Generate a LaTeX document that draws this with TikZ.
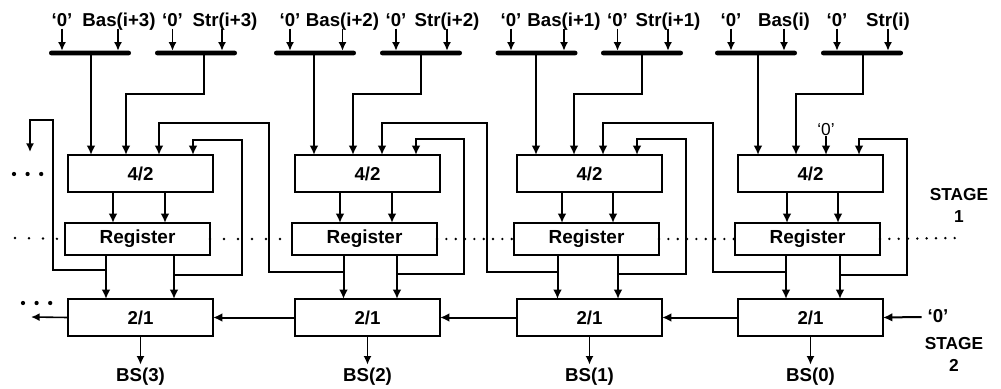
\documentclass[tikz,border=0pt]{standalone}
\usepackage{fontspec}
\setmainfont{Liberation Sans}
\usepackage{xcolor}
\usepackage{tikz}
\usetikzlibrary{arrows.meta,positioning}

\begin{document}
\begin{tikzpicture}[
    x=0.75pt, y=-0.75pt,
    opbox/.style={draw, line width=1.6pt, outer sep=0pt, inner sep=0pt, minimum width=108.75pt, minimum height=27.75pt, font=\fontsize{14}{16}\selectfont\bfseries},
    regbox/.style={opbox, minimum height=24pt, font=\fontsize{14.2}{18}\selectfont\bfseries},
    busbar/.style={fill=black, rounded corners=1.6pt, outer sep=0pt, inner sep=0pt, minimum width=61.5pt, minimum height=3.4pt},
    lbl/.style={inner sep=0pt, outer sep=0pt, text height=9.75pt, text depth=1.5pt, font=\fontsize{14}{16}\selectfont\bfseries},
    bslbl/.style={lbl, text height=12.5pt},
    stagelbl/.style={inner sep=0pt, align=center, font=\fontsize{13}{16.5}\selectfont\bfseries},
    ln/.style={line width=1.5pt},
    ar/.style={ln, -{Latex[length=7pt,width=6.5pt]}},
    thn/.style={line width=1.2pt, -{Latex[length=6.5pt,width=6pt]}},
    dotline/.style={line width=2pt, line cap=round, dash pattern=on 0pt off 7pt},
    dotwide/.style={line width=2pt, line cap=round, dash pattern=on 0pt off 10.5pt},
    bigdots/.style={line width=3.2pt, line cap=round, dash pattern=on 0pt off 10.2pt}
  ]
    \useasboundingbox (0,0) rectangle (1001,389);

    % 4/2 adders, registers and 2/1 adders
    \node[opbox] (add3) at (140.5,173.5) {4/2};
    \node[opbox, right=61.5pt of add3] (add2) {4/2};
    \node[opbox, right=57.75pt of add2] (add1) {4/2};
    \node[opbox, right=57pt of add1] (add0) {4/2};
    \node[regbox, below=23.25pt of add3, xshift=-2.25pt] (reg3) {Register};
    \node[regbox, below=23.25pt of add2, xshift=-2.25pt] (reg2) {Register};
    \node[regbox, below=23.25pt of add1, xshift=-2.25pt] (reg1) {Register};
    \node[regbox, below=23.25pt of add0, xshift=-2.25pt] (reg0) {Register};
    \node[opbox, below=33pt of reg3, xshift=2.25pt] (mux3) {2/1};
    \node[opbox, below=33pt of reg2, xshift=2.25pt] (mux2) {2/1};
    \node[opbox, below=33pt of reg1, xshift=2.25pt] (mux1) {2/1};
    \node[opbox, below=33pt of reg0, xshift=2.25pt] (mux0) {2/1};

    % input buses
    \node[busbar] (bus3a) at (90,53) {};
    \node[busbar] (bus3b) at (196,53) {};
    \node[busbar] (bus2a) at (315,53) {};
    \node[busbar] (bus2b) at (421,53) {};
    \node[busbar] (bus1a) at (536.5,53) {};
    \node[busbar] (bus1b) at (642,53) {};
    \node[busbar] (bus0a) at (756,53) {};
    \node[busbar] (bus0b) at (862,53) {};

    % input labels
    \node[lbl] (z3a) at (62,21) {‘0’};
    \node[lbl] (bas3) at (119,21) {Bas(i+3)};
    \node[lbl] (z3b) at (172.5,21) {‘0’};
    \node[lbl] (str3) at (225,21) {Str(i+3)};
    \node[lbl] (z2a) at (290,21) {‘0’};
    \node[lbl] (bas2) at (342.5,21) {Bas(i+2)};
    \node[lbl] (z2b) at (396,21) {‘0’};
    \node[lbl] (str2) at (447,21) {Str(i+2)};
    \node[lbl] (z1a) at (511,21) {‘0’};
    \node[lbl] (bas1) at (564,21) {Bas(i+1)};
    \node[lbl] (z1b) at (617.5,21) {‘0’};
    \node[lbl] (str1) at (668,21) {Str(i+1)};
    \node[lbl] (z0a) at (731,21) {‘0’};
    \node[lbl] (bas0) at (784,21) {Bas(i)};
    \node[lbl] (z0b) at (837,21) {‘0’};
    \node[lbl] (str0) at (888,21) {Str(i)};

    % outputs and side labels
    \node[bslbl, below=21.5pt of mux3] (bs3) {BS(3)};
    \node[bslbl, below=21.5pt of mux2] (bs2) {BS(2)};
    \node[bslbl, below=21.5pt of mux1] (bs1) {BS(1)};
    \node[bslbl, below=21.5pt of mux0] (bs0) {BS(0)};
    \node[lbl] (zin) at (938,317) {‘0’};
    \node[inner sep=0pt, font=\fontsize{13}{16}\selectfont] (zmid) at (826,130) {‘0’};
    \node[stagelbl] (stage1) at (959,205) {STAGE\\1};
    \node[stagelbl] (stage2) at (954,354) {STAGE\\2};

    % free ends
    \coordinate (carryout) at (31,317);
    \coordinate (dotsl) at (15,238);
    \coordinate (dotsr) at (958,238);
    \coordinate (dotsa) at (14,174);
    \coordinate (dotsb) at (42,174);
    \coordinate (dotsc) at (23,303);
    \coordinate (dotsd) at (51,303);

    % stage line
    \draw[dotwide] (dotsl) -- (reg3.west);
    \draw[dotwide] (reg3.east) -- (reg2.west);
    \draw[dotline] (reg2.east) -- (reg1.west);
    \draw[dotline] (reg1.east) -- (reg0.west);
    \draw[dotline] (reg0.east) -- (dotsr);
    \draw[bigdots] (dotsa) -- (dotsb);
    \draw[bigdots] (dotsc) -- (dotsd);

    % bus inputs
    \draw[thn] (z3a.south) -- (z3a |- bus3a.north);
    \draw[thn] (118,0 |- bas3.south) -- (118,0 |- bus3a.north);
    \draw[thn] (z3b.south) -- (z3b |- bus3b.north);
    \draw[thn] (222,0 |- str3.south) -- (222,0 |- bus3b.north);
    \draw[thn] (z2a.south) -- (z2a |- bus2a.north);
    \draw[thn] (bas2.south) -- (bas2 |- bus2a.north);
    \draw[thn] (z2b.south) -- (z2b |- bus2b.north);
    \draw[thn] (str2.south) -- (str2 |- bus2b.north);
    \draw[thn] (z1a.south) -- (z1a |- bus1a.north);
    \draw[thn] (bas1.south) -- (bas1 |- bus1a.north);
    \draw[thn] (z1b.south) -- (z1b |- bus1b.north);
    \draw[thn] (str1.south) -- (str1 |- bus1b.north);
    \draw[thn] (z0a.south) -- (z0a |- bus0a.north);
    \draw[thn] (bas0.south) -- (bas0 |- bus0a.north);
    \draw[thn] (z0b.south) -- (z0b |- bus0b.north);
    \draw[thn] (str0.south) -- (str0 |- bus0b.north);

    % buses to adders
    \draw[ar] (91,0 |- bus3a.south) -- (91,0 |- add3.north);
    \draw[ar] (204,0 |- bus3b.south) |- (126,94) -- (126,0 |- add3.north);
    \draw[ar] (314,0 |- bus2a.south) -- (314,0 |- add2.north);
    \draw[ar] (421,0 |- bus2b.south) |- (353,94) -- (353,0 |- add2.north);
    \draw[ar] (536,0 |- bus1a.south) -- (536,0 |- add1.north);
    \draw[ar] (642,0 |- bus1b.south) |- (574,94) -- (574,0 |- add1.north);
    \draw[ar] (758,0 |- bus0a.south) -- (758,0 |- add0.north);
    \draw[ar] (863,0 |- bus0b.south) |- (796,94) -- (796,0 |- add0.north);
    \draw[ar] (zmid.south) -- (zmid |- add0.north);

    % adders to registers
    \draw[ar] (113,0 |- add3.south) -- (113,0 |- reg3.north);
    \draw[ar] (165,0 |- add3.south) -- (165,0 |- reg3.north);
    \draw[ar] (340,0 |- add2.south) -- (340,0 |- reg2.north);
    \draw[ar] (392,0 |- add2.south) -- (392,0 |- reg2.north);
    \draw[ar] (562,0 |- add1.south) -- (562,0 |- reg1.north);
    \draw[ar] (613,0 |- add1.south) -- (613,0 |- reg1.north);
    \draw[ar] (787,0 |- add0.south) -- (787,0 |- reg0.north);
    \draw[ar] (838,0 |- add0.south) -- (838,0 |- reg0.north);

    % registers to 2/1 adders
    \draw[ar] (106,0 |- reg3.south) -- (106,0 |- mux3.north);
    \draw[ar] (174,0 |- reg3.south) -- (174,0 |- mux3.north);
    \draw[ar] (343.5,0 |- reg2.south) -- (343.5,0 |- mux2.north);
    \draw[ar] (397,0 |- reg2.south) -- (397,0 |- mux2.north);
    \draw[ar] (557.5,0 |- reg1.south) -- (557.5,0 |- mux1.north);
    \draw[ar] (618,0 |- reg1.south) -- (618,0 |- mux1.north);
    \draw[ar] (786,0 |- reg0.south) -- (786,0 |- mux0.north);
    \draw[ar] (840,0 |- reg0.south) -- (840,0 |- mux0.north);

    % feedback
    \draw[thn] (106,270) -| (53,120) -| (30,152);
    \draw[ar] (174,275) -| (242,140) -| (193,0 |- add3.north);
    \draw[ar] (343.5,272) -| (269,123) -| (159,0 |- add3.north);
    \draw[ar] (397,274) -| (464,139) -| (416,0 |- add2.north);
    \draw[ar] (557.5,272) -| (487,123) -| (382,0 |- add2.north);
    \draw[ar] (618,274) -| (686,139) -| (637,0 |- add1.north);
    \draw[ar] (786,272) -| (713,123) -| (603,0 |- add1.north);
    \draw[ar] (840,275) -| (907,139) -| (859,0 |- add0.north);

    % carry chain and outputs
    \draw[thn] (mux3.west) -- (carryout);
    \draw[ar] (mux2.west) -- (mux3.east);
    \draw[ar] (mux1.west) -- (mux2.east);
    \draw[ar] (mux0.west) -- (mux1.east);
    \draw[ar] ([xshift=-4.5pt]zin.west) -- (mux0.east);
    \draw[thn] (mux3.south) -- (bs3.north);
    \draw[thn] (mux2.south) -- (bs2.north);
    \draw[thn] (mux1.south) -- (bs1.north);
    \draw[thn] (mux0.south) -- (bs0.north);
  \end{tikzpicture}
\end{document}
